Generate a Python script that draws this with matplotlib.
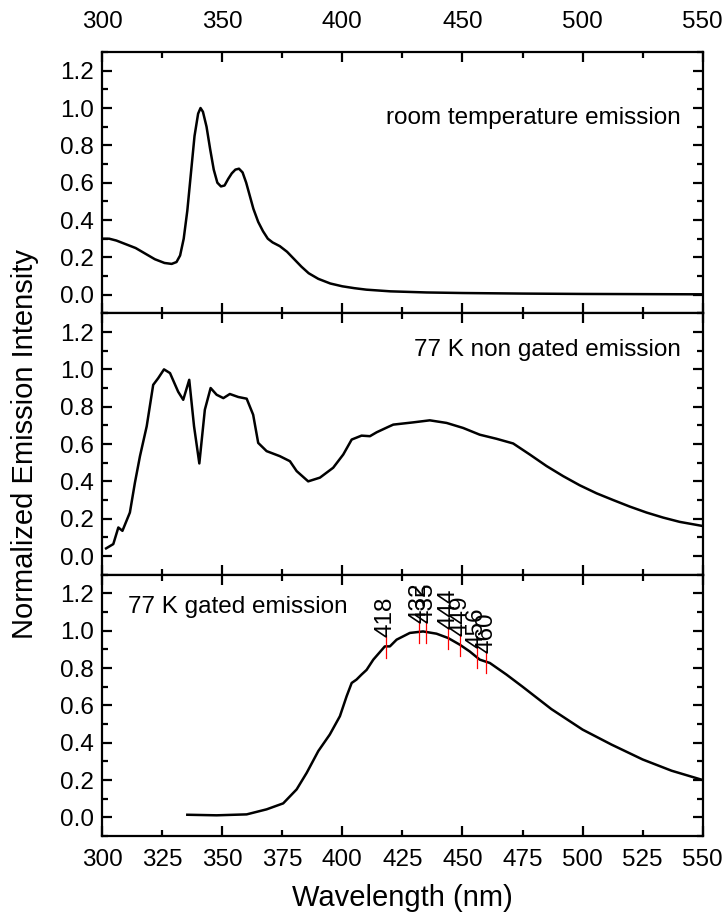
import numpy as np
import matplotlib
matplotlib.use("Agg")
import matplotlib.pyplot as plt
from matplotlib.ticker import MultipleLocator, FormatStrFormatter

plt.rcParams['font.family'] = ['Liberation Sans', 'DejaVu Sans']

# Room temperature emission
rt_wl = [300, 303, 306, 310, 314, 318, 322, 326, 329, 331, 332.5, 334, 335.5, 337, 338.5,
         340, 341, 342, 343.5, 345, 346.5, 348, 349.5, 351, 352.5, 354, 355.5, 357,
         358.5, 360, 361.5, 363, 365, 367, 369, 371, 374, 377, 380, 383, 386, 390, 395,
         400, 405, 410, 420, 435, 450, 475, 500, 525, 550]
rt_int = [0.30, 0.30, 0.29, 0.27, 0.25, 0.22, 0.19, 0.17, 0.165, 0.175, 0.21, 0.30, 0.45,
          0.65, 0.85, 0.97, 1.0, 0.98, 0.90, 0.78, 0.67, 0.60, 0.58, 0.585, 0.62, 0.65,
          0.67, 0.675, 0.655, 0.60, 0.53, 0.46, 0.39, 0.34, 0.30, 0.28, 0.26, 0.23, 0.19,
          0.15, 0.115, 0.085, 0.06, 0.045, 0.035, 0.027, 0.018, 0.012, 0.009, 0.006, 0.004,
          0.003, 0.002]

# 77 K non gated emission
ng_wl = [301.7, 304.7, 306.8, 308.5, 311.6, 313.7, 315.8, 318.6, 321.3, 323.4, 325.8,
         328.3, 331.7, 333.8, 336.3, 338.3, 340.5, 342.8, 345.2, 347.7, 350.5, 353.2,
         356.7, 360.2, 362.9, 365, 368.5, 374, 378.2, 381, 385.8, 390.7, 396.2, 400.4,
         403.9, 408, 411.5, 414.3, 418.8, 421.2, 429.5, 436.4, 443.4, 450.3, 457.2,
         464.2, 471.1, 478, 485, 491.9, 498.8, 505.8, 512.7, 519.6, 526.6, 533.5,
         540.4, 549.5]
ng_int = [0.041, 0.064, 0.153, 0.135, 0.233, 0.393, 0.535, 0.695, 0.917, 0.953, 1.0,
          0.98, 0.88, 0.837, 0.944, 0.695, 0.496, 0.784, 0.90, 0.864, 0.846, 0.868,
          0.852, 0.843, 0.757, 0.606, 0.562, 0.535, 0.508, 0.455, 0.40, 0.42, 0.473, 0.544,
          0.624, 0.645, 0.642, 0.663, 0.69, 0.704, 0.716, 0.727, 0.713, 0.686, 0.65,
          0.628, 0.603, 0.544, 0.482, 0.428, 0.379, 0.336, 0.30, 0.265, 0.233, 0.206,
          0.183, 0.162]

# 77 K gated emission
g_wl = [335.5, 347.7, 360.2, 368.5, 375.4, 381, 385.2, 390, 394.8, 399, 401.8, 403.9,
        405.9, 408, 410.1, 412.9, 417.7, 419.8, 422.6, 428.1, 433.6, 439.2, 444, 448.9,
        453, 457.2, 461.4, 468.3, 475, 487, 500, 512, 525, 537, 550]
g_int = [0.014, 0.011, 0.016, 0.043, 0.075, 0.15, 0.239, 0.355, 0.444, 0.542, 0.649, 0.72,
         0.738, 0.765, 0.79, 0.845, 0.916, 0.916, 0.952, 0.988, 0.996, 0.984, 0.961, 0.925,
         0.889, 0.845, 0.827, 0.765, 0.70, 0.58, 0.47, 0.39, 0.31, 0.25, 0.20]

# Marked peak positions on the gated spectrum
peak_wl = [418, 432, 435, 444, 449, 456, 460]
peak_labels = ['418', '432', '435', '444', '449', '456', '460']

panel_titles = ['room temperature emission', '77 K non gated emission', '77 K gated emission']

TICK_FS = 17.5
TITLE_FS = 17.5
LABEL_FS = 21

fig = plt.figure(figsize=(7.26, 9.16), dpi=100)
left, right = 0.1405, 0.968
top, bottom = 0.9432, 0.0873
h = (top - bottom) / 3
axes = [fig.add_axes([left, top - (i + 1) * h, right - left, h]) for i in range(3)]

series = [(rt_wl, rt_int), (ng_wl, ng_int), (g_wl, g_int)]
for i, ax in enumerate(axes):
    x, y = series[i]
    ax.plot(x, y, color='black', lw=1.8)
    ax.set_xlim(300, 550)
    ax.set_ylim(-0.1, 1.3)
    ax.xaxis.set_major_locator(MultipleLocator(50))
    ax.xaxis.set_minor_locator(MultipleLocator(25))
    ax.yaxis.set_major_locator(MultipleLocator(0.2))
    ax.yaxis.set_minor_locator(MultipleLocator(0.1))
    ax.yaxis.set_major_formatter(FormatStrFormatter('%.1f'))
    ax.tick_params(which='both', direction='in', top=True, right=True,
                   width=1.6, labelsize=TICK_FS, pad=6)
    ax.tick_params(which='major', length=7)
    ax.tick_params(which='minor', length=4)
    for s in ax.spines.values():
        s.set_linewidth(1.6)
    ax.tick_params(axis='x', labelbottom=False)
    if i == 0:
        ax.tick_params(axis='x', labeltop=True, pad=14)

axes[2].tick_params(axis='x', labelbottom=True, pad=9)
axes[2].set_xticks(np.arange(300, 551, 25))
axes[2].xaxis.set_minor_locator(plt.NullLocator())
for t, tl in zip(axes[2].xaxis.get_major_ticks(), range(300, 551, 25)):
    if tl % 50:
        t.tick1line.set_markersize(4)
        t.tick2line.set_markersize(4)

axes[0].text(0.963, 0.747, panel_titles[0], transform=axes[0].transAxes,
             ha='right', va='center', fontsize=TITLE_FS)
axes[1].text(0.963, 0.859, panel_titles[1], transform=axes[1].transAxes,
             ha='right', va='center', fontsize=TITLE_FS)
axes[2].text(0.043, 0.878, panel_titles[2], transform=axes[2].transAxes,
             ha='left', va='center', fontsize=TITLE_FS)

ax = axes[2]
for wl, lab in zip(peak_wl, peak_labels):
    v = np.interp(wl, g_wl, g_int)
    ax.plot([wl, wl], [v - 0.06, v + 0.06], color='red', lw=0.9)
    ax.text(wl, v + 0.05, lab, rotation=90, ha='center', va='bottom', fontsize=TITLE_FS)

axes[2].set_xlabel('Wavelength (nm)', fontsize=LABEL_FS, labelpad=10)
fig.text(0.034, (top + bottom) / 2, 'Normalized Emission Intensity', rotation=90,
         ha='center', va='center', fontsize=LABEL_FS)

fig.savefig('out.png', dpi=100)
